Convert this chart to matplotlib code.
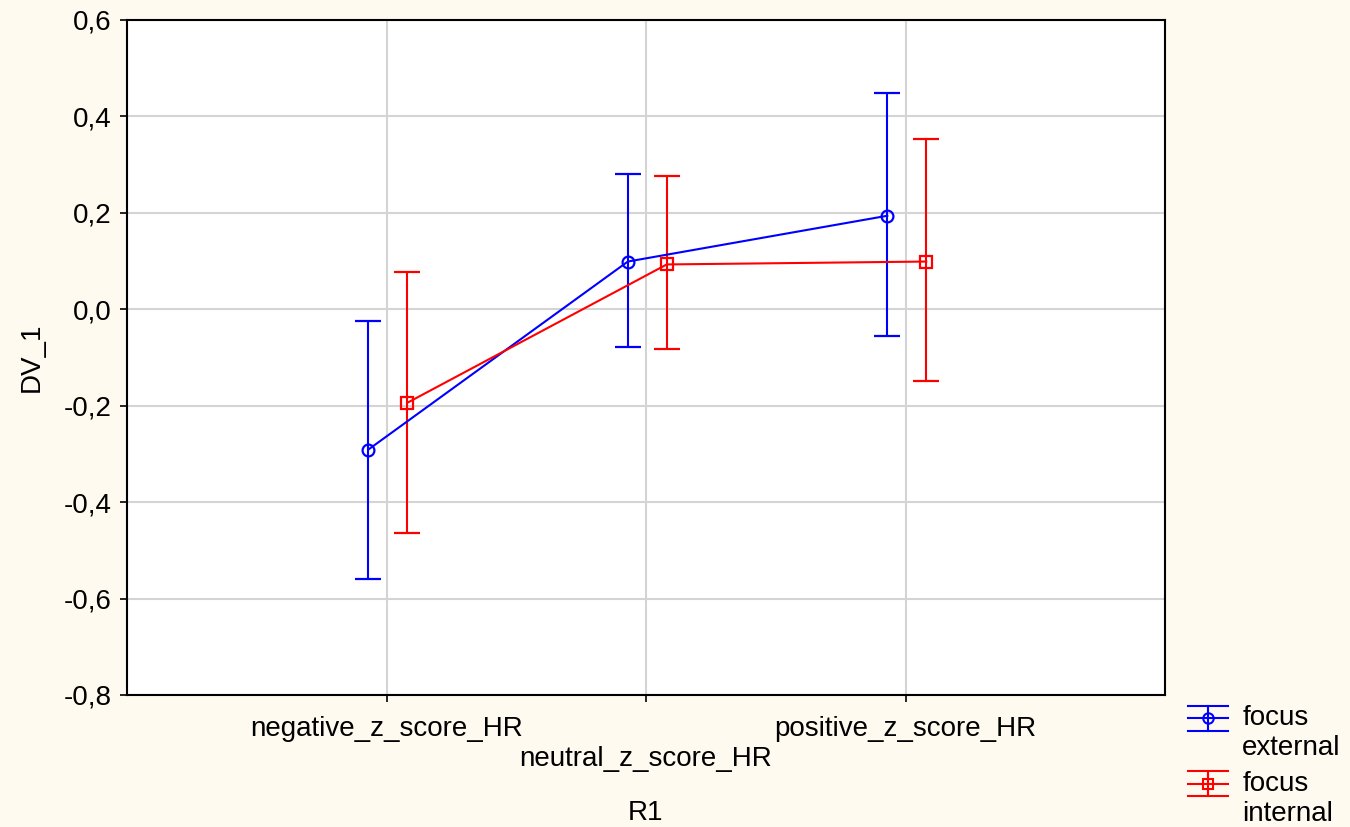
import matplotlib
matplotlib.use("Agg")
import matplotlib.pyplot as plt
from matplotlib.ticker import FuncFormatter, MultipleLocator
from matplotlib.legend_handler import HandlerBase
from matplotlib.lines import Line2D
import numpy as np

plt.rcParams['font.family'] = ['Liberation Sans', 'DejaVu Sans']

categories = ["negative_z_score_HR", "neutral_z_score_HR", "positive_z_score_HR"]
series_names = ["focus\nexternal", "focus\ninternal"]
ext_mean = [-0.291, 0.099, 0.194]
ext_upper = [-0.024, 0.281, 0.449]
ext_lower = [-0.559, -0.078, -0.055]
int_mean = [-0.194, 0.093, 0.099]
int_upper = [0.078, 0.277, 0.354]
int_lower = [-0.463, -0.082, -0.148]

bg = '#fffaf0'
FS = 20
fig = plt.figure(figsize=(13.5, 8.27), dpi=100, facecolor=bg)
ax = fig.add_axes([127/1350, 1-695/827, (1165-127)/1350, (695-20)/827])
ax.set_facecolor('white')

x = np.arange(len(categories))
offsets = [-0.07, 0.08]
colors = ['#0000ff', '#ff0000']
markers = ['o', 's']
handles = []
for i, (m, up, lo) in enumerate([(ext_mean, ext_upper, ext_lower), (int_mean, int_upper, int_lower)]):
    m = np.array(m); up = np.array(up); lo = np.array(lo)
    ax.errorbar(x + offsets[i], m, yerr=[m - lo, up - m], color=colors[i],
                marker=markers[i], markersize=8.5, markerfacecolor='none',
                markeredgewidth=1.6, lw=1.5, elinewidth=1.5, capsize=9.5,
                capthick=1.5, zorder=3)
    handles.append(Line2D([], [], color=colors[i], marker=markers[i], markersize=7,
                          markerfacecolor='none', markeredgewidth=1.5, lw=1.5))


class ErrHandler(HandlerBase):
    def create_artists(self, legend, orig, xd, yd, width, height, fontsize, trans):
        c = orig.get_color()
        cy = height * 0.5 - yd + fontsize * 0.55
        dy = fontsize * 0.45
        arts = []
        for yy in (cy - dy, cy, cy + dy):
            arts.append(Line2D([-xd, -xd + width], [yy, yy], color=c, lw=1.5, transform=trans))
        arts.append(Line2D([-xd + width / 2] * 2, [cy - dy, cy + dy], color=c, lw=1.5, transform=trans))
        arts.append(Line2D([-xd + width / 2], [cy], color=c, marker=orig.get_marker(),
                           markersize=7.5, markerfacecolor='none', markeredgewidth=1.5,
                           transform=trans))
        return arts


ax.set_xlim(-1, 3)
ax.set_ylim(-0.8, 0.6)
ax.yaxis.set_major_locator(MultipleLocator(0.2))
ax.yaxis.set_major_formatter(FuncFormatter(lambda v, p: f"{v:.1f}".replace('.', ',').replace('-0,0', '0,0')))
ax.set_xticks(x)
ax.set_xticklabels([categories[0], "\n" + categories[1], categories[2]], fontsize=FS)
ax.tick_params(axis='y', labelsize=FS, direction='out', length=5, width=1.2, color='black', pad=6)
ax.tick_params(axis='x', direction='out', length=5, width=1.2, pad=10)
ax.grid(True, color='#d4d4d4', lw=1.5, zorder=0)
ax.set_axisbelow(True)
for s in ax.spines.values():
    s.set_linewidth(1.5)
    s.set_color('black')

ax.set_xlabel("R1", fontsize=FS, labelpad=20)
ax.set_ylabel("DV_1", fontsize=FS, labelpad=14)

fig.legend(handles=handles, labels=series_names, loc='upper left',
           bbox_to_anchor=(1188/1350, 1-705/827), frameon=False, fontsize=FS,
           handlelength=1.45, handletextpad=0.5, labelspacing=0.35, borderpad=0,
           borderaxespad=0, handler_map={Line2D: ErrHandler()})

fig.savefig("out.png", dpi=100, facecolor=bg)
